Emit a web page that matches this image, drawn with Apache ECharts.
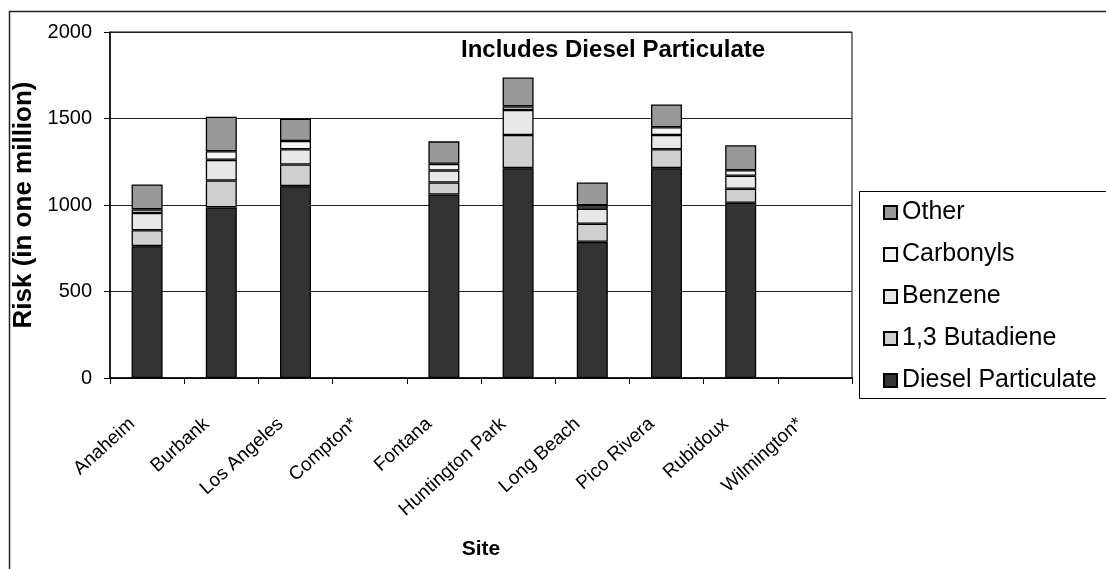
<!DOCTYPE html>
<html>
<head>
<meta charset="utf-8">
<script src="https://cdn.jsdelivr.net/npm/echarts@6/dist/echarts.min.js"></script>
<style>html,body{margin:0;padding:0;background:#fff;}#c{width:1106px;height:569px;}</style>
</head>
<body>
<div id="c"></div>
<script>
const sites = ['Anaheim','Burbank','Los Angeles','Compton*','Fontana','Huntington Park','Long Beach','Pico Rivera','Rubidoux','Wilmington*'];
const diesel    = [762, 986, 1109, null, 1061, 1213, 787, 1213, 1013, null];
const butadiene = [92, 156, 125, null, 69, 192, 105, 109, 81, null];
const benzene   = [100, 119, 88, null, 69, 144, 87, 83, 75, null];
const carbonyls = [21, 50, 48, null, 39, 21, 19, 44, 32, null];
const other     = [144, 199, 129, null, 130, 167, 132, 132, 144, null];
const yTicks = [0, 500, 1000, 1500, 2000];

const FONT = '"Liberation Sans", Arial, sans-serif';
const chart = echarts.init(document.getElementById('c'));
function s(name, data, color) {
  return {name, type:'bar', stack:'risk', data, barWidth:31,
    itemStyle:{color, borderColor:'#000', borderWidth:1.3}};
}
chart.setOption({
  animation:false,
  backgroundColor:'#fff',
  textStyle:{fontFamily:FONT, color:'#000'},
  graphic:[
    {type:'rect', shape:{x:9.5, y:11.5, width:1200, height:700}, style:{fill:null, stroke:'#222', lineWidth:1.5}, z:-1},
    {type:'rect', shape:{x:859.5, y:191.5, width:300, height:207}, style:{fill:'#fff', stroke:'#000', lineWidth:1}, z:0}
  ],
  title:{text:'Includes Diesel Particulate', left:456, top:33,
    textStyle:{fontFamily:FONT, fontSize:24, fontWeight:'bold', color:'#000'}},
  legend:{
    orient:'vertical', left:878, top:195, itemWidth:13, itemHeight:13, itemGap:17, z:5,
    data:['Other','Carbonyls','Benzene','1,3 Butadiene','Diesel Particulate'],
    textStyle:{fontFamily:FONT, fontSize:25, color:'#000', lineHeight:24},
    icon:'rect'
  },
  grid:{left:110, top:32, right:254, bottom:191, show:true, borderColor:'#000', borderWidth:1},
  xAxis:{
    type:'category', data:sites,
    name:'Site', nameLocation:'middle', nameGap:161,
    nameTextStyle:{fontFamily:FONT, fontSize:21, fontWeight:'bold', color:'#000'},
    axisLine:{lineStyle:{color:'#000', width:1.5}},
    axisTick:{show:true, length:6, lineStyle:{color:'#000'}},
    axisLabel:{rotate:42, fontSize:19, color:'#000', margin:30, interval:0, fontFamily:FONT,
      padding:[0,20,0,0]}
  },
  yAxis:{
    type:'value', min:yTicks[0], max:yTicks[yTicks.length-1], interval:500,
    name:'Risk (in one million)', nameLocation:'middle', nameGap:57,
    nameTextStyle:{fontFamily:FONT, fontSize:26, fontWeight:'bold', color:'#000'},
    axisLine:{show:true, lineStyle:{color:'#000', width:1.5}},
    axisTick:{show:true, length:6, lineStyle:{color:'#000'}},
    axisLabel:{fontSize:20, color:'#000', margin:18, fontFamily:FONT, formatter:v => String(v)},
    splitLine:{lineStyle:{color:'#222', width:1}}
  },
  series:[
    s('Diesel Particulate', diesel, '#333333'),
    s('1,3 Butadiene', butadiene, '#d0d0d0'),
    s('Benzene', benzene, '#e8e8e8'),
    s('Carbonyls', carbonyls, '#f4f4f4'),
    s('Other', other, '#999999')
  ]
});
</script>
</body>
</html>
